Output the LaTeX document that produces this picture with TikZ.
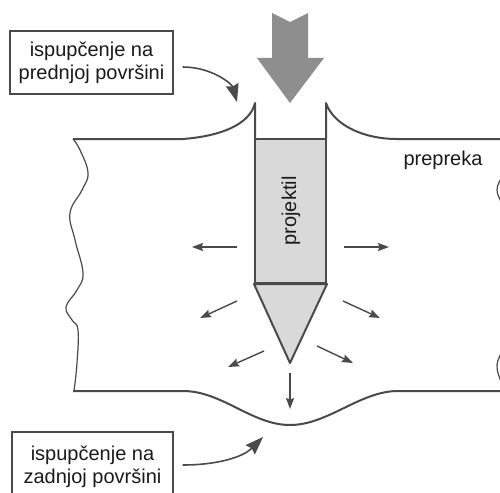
\documentclass[tikz,border=0pt]{standalone}
\usepackage{fontspec}
\setmainfont{Liberation Sans}
\usetikzlibrary{arrows.meta}
\definecolor{ink}{HTML}{4A4A4A}
\definecolor{txt}{HTML}{1A1A1A}
\definecolor{bodyfill}{HTML}{D9D9D9}
\definecolor{impact}{HTML}{8E8E8E}
\begin{document}
\begin{tikzpicture}[x=1pt,y=-1pt,
  labelbox/.style={draw=ink,line width=1.4pt,text=txt,align=center,
    font=\fontsize{20}{23}\selectfont,inner sep=0pt},
  outline/.style={draw=ink,line width=2pt,line join=round},
  spray/.style={draw=ink,line width=1.4pt,-{Stealth[length=11pt,width=8pt,inset=1.5pt]}},
  pointer/.style={draw=ink,line width=1.6pt,-{Stealth[length=18pt,width=13pt,inset=2pt]}}]
\useasboundingbox (0,0) rectangle (500,492);
\clip (0,0) rectangle (500,492);

% target plate: top surface with the entry lip
\draw[outline] (73,139) -- (183,139)
  .. controls (222,136) and (250,124) .. (255,103) -- (255,139);
\draw[outline] (326,139) -- (326,103)
  .. controls (333,124) and (362,139) .. (397,139) -- (505,139);
% rear surface with the exit bulge
\draw[outline] (73,391) -- (183,391)
  .. controls (222,391) and (252,425) .. (290,425)
  .. controls (328,425) and (360,391) .. (398,391) -- (505,391);
% broken left edge
\draw[ink,line width=1.2pt] plot[smooth,tension=0.7] coordinates {
  (73,139) (80,150) (88,173) (82,190) (70,213) (75,240) (83,273)
  (77,290) (66,307) (72,320) (78,330) (77,363) (74,391)};
% broken right edge
\draw[ink,line width=1.2pt] plot[smooth,tension=0.7] coordinates {
  (504,139) (508,160) (502,176) (497,190) (502,205) (508,230)
  (507,300) (503,345) (497,365) (501,382) (504,391)};

% projectile
\node[draw=ink,fill=bodyfill,line width=2pt,minimum width=71pt,minimum height=144pt,
  inner sep=0pt] (shell) at (290.5,211) {};
\node[rotate=90,text=txt,font=\fontsize{20}{23}\selectfont] (shelltxt) at (291,211) {projektil};
\draw[outline,fill=bodyfill] (shell.south west) -- (290,363) -- (shell.south east) -- cycle;

% impact direction
\fill[impact] (272,13) -- (290,22) -- (308,13) -- (308,58) -- (324,58)
  -- (290,103) -- (257,58) -- (272,58) -- cycle;

\node[text=txt,font=\fontsize{20}{23}\selectfont] (plate) at (443,160) {prepreka};

% stress directions
\draw[spray] (237,247) -- (192,247);
\draw[spray] (344,247) -- (389,247);
\draw[spray] (237,301) -- (200,318);
\draw[spray] (343,301) -- (380,318);
\draw[spray] (264,351) -- (228,367);
\draw[spray] (317,346) -- (353,363);
\draw[spray] (290,373) -- (290,409);

% labels
\node[labelbox,minimum width=163pt,minimum height=63pt] (front) at (91.5,62.5)
  {ispupčenje na\\prednjoj površini};
\node[labelbox,minimum width=161pt,minimum height=70pt] (rear) at (92.5,467)
  {ispupčenje na\\zadnjoj površini};
\coordinate (frontlip) at (237,102);
\coordinate (rearbulge) at (263,437);
\draw[pointer] ([xshift=9pt,yshift=-4.5pt]front.east)
  .. controls (212,67) and (232,84) .. (frontlip);
\draw[pointer] ([xshift=9pt,yshift=2pt]rear.east)
  .. controls (215,465) and (242,458) .. (rearbulge);
\end{tikzpicture}
\end{document}
